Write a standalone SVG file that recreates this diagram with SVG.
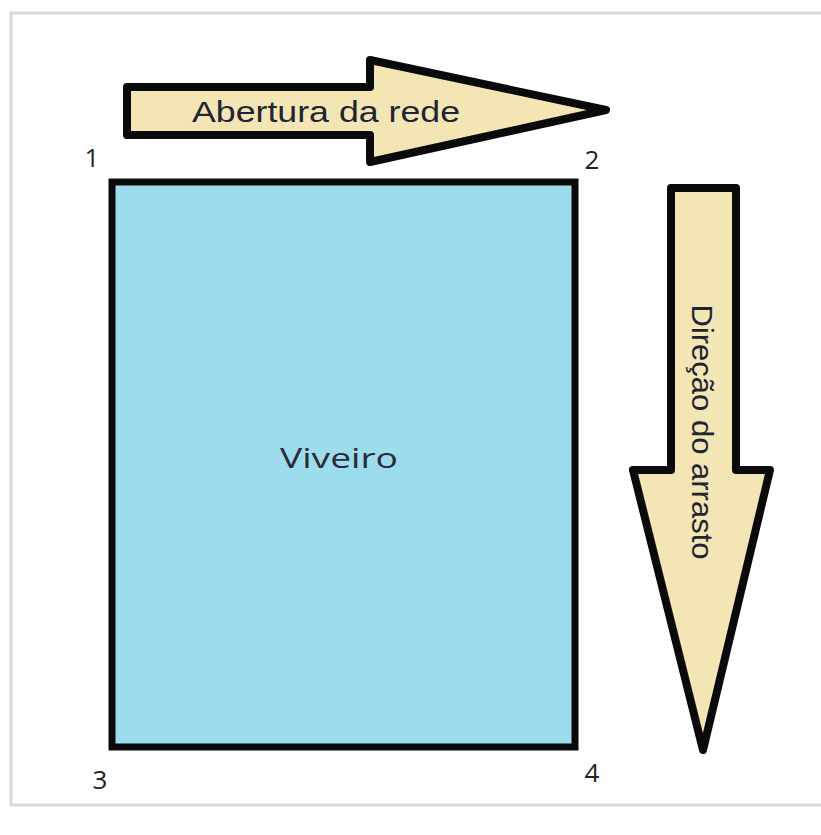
<svg xmlns="http://www.w3.org/2000/svg" width="821" height="835" viewBox="0 0 821 835">
<style>
.arrow{fill:#F3E6B4;stroke:#0a0a0a;stroke-width:8;stroke-linejoin:round}
.lbl{font-family:"Liberation Sans",Arial,sans-serif;font-size:30px;fill:#1f2433}
.num{font-family:"Open Sans","Liberation Sans",sans-serif;font-size:26px;fill:#222}
</style>
<rect x="0" y="0" width="821" height="835" fill="#ffffff"/>
<rect x="11" y="13" width="830" height="792" fill="#ffffff" stroke="#d9d9d9" stroke-width="3"/>
<g id="viveiro">
<rect x="112" y="182" width="463" height="565" fill="#9DDCEC" stroke="#0a0a0a" stroke-width="7"/>
<text x="339" y="468" text-anchor="middle" style="font-family:'Open Sans',sans-serif;font-size:28px;fill:#2a2a38" textLength="118" lengthAdjust="spacingAndGlyphs">Viveiro</text>
</g>
<g id="abertura">
<polygon class="arrow" points="127,87 370,87 370,60 606,110 370,162 370,135 127,135"/>
<text class="lbl" x="326" y="122" text-anchor="middle" textLength="268" lengthAdjust="spacingAndGlyphs">Abertura da rede</text>
</g>
<g id="arrasto">
<polygon class="arrow" points="671,188 736,188 736,470 770,470 703,750 633,470 671,470"/>
<text class="lbl" transform="translate(692,432) rotate(90)" text-anchor="middle" textLength="255" lengthAdjust="spacingAndGlyphs">Direção do arrasto</text>
</g>
<g id="corners">
<text class="num" x="92" y="167" text-anchor="middle">1</text>
<text class="num" x="592" y="169" text-anchor="middle">2</text>
<text class="num" x="100" y="789" text-anchor="middle">3</text>
<text class="num" x="592" y="782" text-anchor="middle">4</text>
</g>
</svg>
